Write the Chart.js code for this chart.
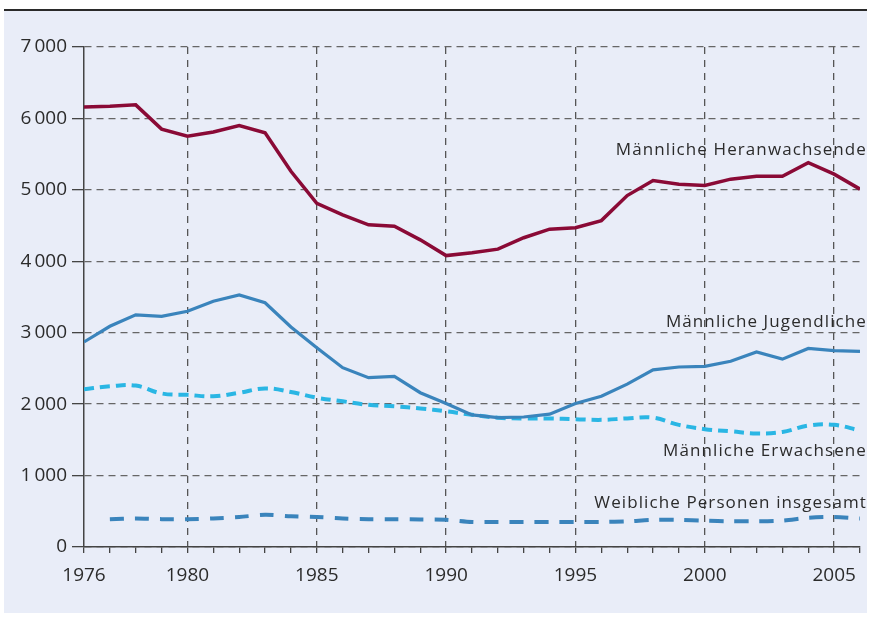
<!DOCTYPE html>
<html>
<head>
<meta charset="utf-8">
<script src="https://cdn.jsdelivr.net/npm/chart.js@4.4.0/dist/chart.umd.min.js"></script>
<style>
  html, body { margin: 0; padding: 0; background: #ffffff; }
  #wrap { position: relative; width: 871px; height: 617px; overflow: hidden; }
  #panel { position: absolute; left: 4px; top: 9px; width: 863px; height: 604px;
           background: #e9edf8; border-top: 2px solid #2a2a2a; box-sizing: border-box; }
  #c { position: absolute; left: 0; top: 0; }
</style>
</head>
<body>
<div id="wrap">
  <div id="panel"></div>
  <canvas id="c" width="871" height="617"></canvas>
</div>
<script>
// ---- data ----
const years = [1976,1977,1978,1979,1980,1981,1982,1983,1984,1985,1986,1987,1988,1989,1990,
               1991,1992,1993,1994,1995,1996,1997,1998,1999,2000,2001,2002,2003,2004,2005,2006];
const heranwachsende = [6160,6170,6190,5850,5750,5810,5900,5800,5260,4810,4650,4510,4490,4300,4080,
                        4120,4170,4330,4450,4470,4570,4920,5130,5080,5060,5150,5190,5190,5380,5220,5010];
const jugendliche = [2870,3090,3250,3230,3300,3440,3530,3420,3080,2790,2510,2370,2390,2160,2010,
                     1850,1810,1820,1860,2010,2110,2280,2480,2520,2530,2600,2730,2630,2780,2750,2740];
const erwachsene = [2210,2250,2260,2150,2130,2110,2160,2220,2170,2090,2040,1990,1970,1940,1900,
                    1850,1810,1800,1800,1790,1780,1800,1810,1710,1650,1620,1590,1610,1700,1710,1630];
const weiblich = [null,390,400,390,390,400,420,450,430,420,400,390,390,385,380,
                  350,350,350,350,350,350,360,380,380,370,360,360,370,410,420,400];
const seriesNames = ["Männliche Heranwachsende","Männliche Jugendliche","Männliche Erwachsene","Weibliche Personen insgesamt"];
const yTicks = [0,1000,2000,3000,4000,5000,6000,7000];
const xLabelYears = [1976,1980,1985,1990,1995,2000,2005];

const pts = arr => years.map((y,i) => ({x:y, y:arr[i]}));
const FONT = "'Open Sans', 'DejaVu Sans', sans-serif";
const TXT = '#2b2b2b';

const labelPlugin = {
  id: 'seriesLabels',
  afterDatasetsDraw(chart) {
    const ctx = chart.ctx;
    const right = 867;
    const base = [155, 327, 456, 508];
    ctx.save();
    ctx.font = "17px " + FONT;
    if ('letterSpacing' in ctx) ctx.letterSpacing = '1.1px';
    ctx.fillStyle = TXT;
    ctx.textAlign = 'right';
    ctx.textBaseline = 'alphabetic';
    seriesNames.forEach((n,i) => ctx.fillText(n, right, base[i]));
    ctx.restore();
  }
};

new Chart(document.getElementById('c'), {
  type: 'line',
  data: {
    datasets: [
      { label: seriesNames[0], data: pts(heranwachsende), borderColor: '#8a0a36', borderWidth: 3.5,
        pointRadius: 0, tension: 0, fill: false },
      { label: seriesNames[1], data: pts(jugendliche), borderColor: '#3a84bc', borderWidth: 3.2,
        pointRadius: 0, tension: 0, fill: false },
      { label: seriesNames[2], data: pts(erwachsene), borderColor: '#2ab6e4', borderWidth: 4,
        borderDash: [10,6], pointRadius: 0, tension: 0.4, fill: false },
      { label: seriesNames[3], data: pts(weiblich), borderColor: '#3a84bc', borderWidth: 4,
        borderDash: [14,11], pointRadius: 0, tension: 0.3, fill: false, spanGaps: false }
    ]
  },
  options: {
    responsive: false,
    animation: false,
    devicePixelRatio: 1,
    layout: { padding: { left: 0, top: 47, right: 3, bottom: 0 } },
    plugins: { legend: { display: false }, tooltip: { enabled: false }, title: { display: false } },
    scales: {
      x: {
        type: 'linear', min: 1976, max: 2006,
        afterFit: s => { s.height = 70; },
        afterBuildTicks: s => { s.ticks = years.map(v => ({value: v})); },
        ticks: {
          autoSkip: false, maxRotation: 0, padding: 11, color: TXT,
          font: { family: FONT, size: 19 },
          callback: v => xLabelYears.includes(v) ? String(v) : ''
        },
        grid: {
          color: c => (c.tick && c.tick.value % 5 === 0) ? '#555' : 'rgba(0,0,0,0)',
          lineWidth: 1.3, tickColor: '#444', tickLength: 6, tickWidth: 1.3, drawTicks: true
        },
        border: { display: true, color: '#444', width: 1.5, dash: [7,6] }
      },
      y: {
        type: 'linear', min: 0, max: 7000,
        afterFit: s => { s.width = 84; },
        afterBuildTicks: s => { s.ticks = yTicks.map(v => ({value: v})); },
        ticks: {
          padding: 5, color: TXT, font: { family: FONT, size: 19 },
          callback: v => v === 0 ? '0' : (Math.floor(v/1000) + '\u2009' + String(v % 1000).padStart(3,'0'))
        },
        grid: { color: '#666', lineWidth: 1.3, tickColor: '#444', tickLength: 12, tickWidth: 1.3 },
        border: { display: true, color: '#444', width: 1.5, dash: [7,5] }
      }
    }
  },
  plugins: [labelPlugin]
});
</script>
</body>
</html>
